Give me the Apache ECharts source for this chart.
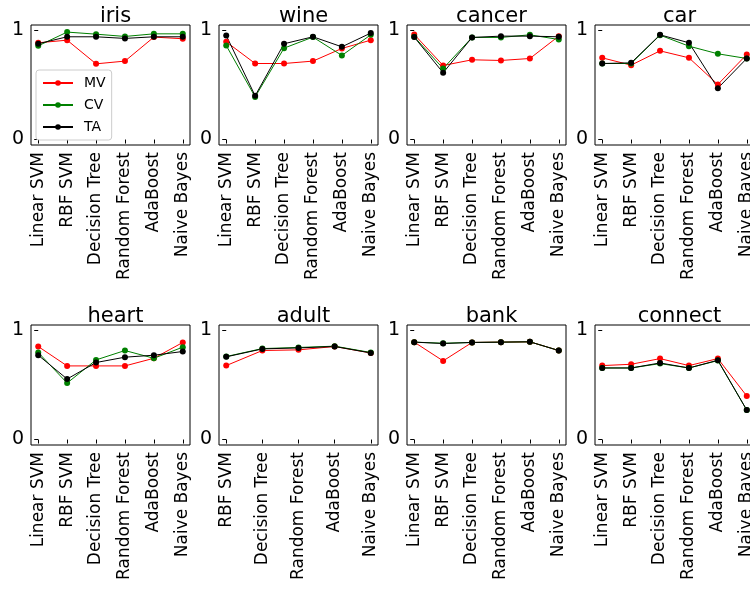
<!DOCTYPE html>
<html>
<head>
<meta charset="utf-8">
<script src="https://cdn.jsdelivr.net/npm/echarts@6/dist/echarts.min.js"></script>
<style>
  html, body { margin: 0; padding: 0; background: #fff; }
  #chart { width: 750px; height: 590px; }
</style>
</head>
<body>
<div id="chart"></div>
<script>
// classifiers on the x axis
const categories = ['Linear SVM', 'RBF SVM', 'Decision Tree', 'Random Forest', 'AdaBoost', 'Naive Bayes']
const adultCategories = ['RBF SVM', 'Decision Tree', 'Random Forest', 'AdaBoost', 'Naive Bayes']
const yTicks = [0, 1]

// accuracy per dataset (MV / CV / TA)
const iris = {
  MV: [0.887, 0.911, 0.694, 0.719, 0.939, 0.924],
  CV: [0.859, 0.985, 0.966, 0.945, 0.969, 0.969],
  TA: [0.878, 0.942, 0.942, 0.927, 0.942, 0.942]
}
const wine = {
  MV: [0.896, 0.697, 0.697, 0.719, 0.835, 0.911],
  CV: [0.862, 0.391, 0.838, 0.939, 0.771, 0.960],
  TA: [0.954, 0.401, 0.878, 0.942, 0.850, 0.976]
}
const cancer = {
  MV: [0.963, 0.679, 0.731, 0.725, 0.743, 0.948],
  CV: [0.942, 0.651, 0.936, 0.936, 0.960, 0.917],
  TA: [0.939, 0.612, 0.936, 0.948, 0.948, 0.942]
}
const car = {
  MV: [0.749, 0.682, 0.813, 0.749, 0.505, 0.780],
  CV: [0.697, 0.697, 0.957, 0.856, 0.786, 0.743],
  TA: [0.697, 0.703, 0.960, 0.887, 0.471, 0.743]
}
const heart = {
  MV: [0.853, 0.675, 0.675, 0.675, 0.745, 0.890],
  CV: [0.798, 0.518, 0.730, 0.816, 0.745, 0.847],
  TA: [0.773, 0.555, 0.706, 0.755, 0.773, 0.807]
}
const adult = {
  MV: [0.678, 0.816, 0.822, 0.853, 0.794],
  CV: [0.761, 0.834, 0.844, 0.856, 0.798],
  TA: [0.758, 0.831, 0.840, 0.853, 0.794]
}
const bank = {
  MV: [0.893, 0.721, 0.890, 0.893, 0.896, 0.816],
  CV: [0.893, 0.883, 0.890, 0.893, 0.896, 0.816],
  TA: [0.893, 0.880, 0.890, 0.893, 0.896, 0.816]
}
const connect = {
  MV: [0.678, 0.690, 0.742, 0.678, 0.742, 0.399],
  CV: [0.656, 0.656, 0.696, 0.656, 0.724, 0.270],
  TA: [0.656, 0.656, 0.702, 0.656, 0.727, 0.270]
}

const panels = [
  { title: 'iris', data: iris, cats: categories },
  { title: 'wine', data: wine, cats: categories },
  { title: 'cancer', data: cancer, cats: categories },
  { title: 'car', data: car, cats: categories },
  { title: 'heart', data: heart, cats: categories },
  { title: 'adult', data: adult, cats: adultCategories },
  { title: 'bank', data: bank, cats: categories },
  { title: 'connect', data: connect, cats: categories }
]

const FONT = 'DejaVu Sans'
const colors = { MV: '#ff0000', CV: '#008000', TA: '#000000' }
const lefts = [31, 219, 407, 595]
const tops = [25, 325]
const W = 159, H = 120

let grid = [], xAxis = [], yAxis = [], series = [], title = []

panels.forEach((p, i) => {
  const left = lefts[i % 4]
  const top = tops[Math.floor(i / 4)]
  const n = p.cats.length
  const idx = p.cats.map((c, k) => k)
  grid.push({
    left: left, top: top, width: W, height: H,
    outerBoundsMode: 'none', containLabel: false,
    show: true, borderColor: '#000', borderWidth: 1
  })
  title.push({
    text: p.title, left: left + W / 2, top: top - 24, textAlign: 'center',
    textStyle: { fontFamily: FONT, fontSize: 21, fontWeight: 'normal', color: '#000' }
  })
  xAxis.push({
    type: 'value', gridIndex: i, min: -0.05 * (n - 1), max: (n - 1) * 1.05,
    axisLine: { show: false },
    splitLine: { show: false },
    axisTick: { show: true, length: 4, customValues: idx, lineStyle: { color: '#000' } },
    axisLabel: {
      customValues: idx, rotate: 90, margin: 7, fontFamily: FONT, fontSize: 17, color: '#000',
      formatter: v => p.cats[Math.round(v)]
    }
  })
  yAxis.push({
    type: 'value', gridIndex: i, min: -0.05, max: 1.05,
    axisLine: { show: false },
    splitLine: { show: false },
    axisTick: { show: true, length: 4, customValues: yTicks, lineStyle: { color: '#000' } },
    axisLabel: { customValues: yTicks, margin: 7, fontFamily: FONT, fontSize: 19, color: '#000', formatter: v => String(v) }
  })
  ;['MV', 'CV', 'TA'].forEach(name => {
    series.push({
      name: name, type: 'line', xAxisIndex: i, yAxisIndex: i,
      data: p.data[name].map((v, k) => [k, v]),
      symbol: 'circle', symbolSize: 6,
      itemStyle: { color: colors[name] },
      lineStyle: { color: colors[name], width: 1 }
    })
  })
})

const chart = echarts.init(document.getElementById('chart'))
chart.setOption({
  animation: false,
  backgroundColor: '#fff',
  title: title,
  legend: {
    data: ['MV', 'CV', 'TA'],
    orient: 'vertical', left: 36, top: 70,
    itemWidth: 30, itemHeight: 7, itemGap: 8,
    padding: [6, 6, 6, 6],
    borderColor: '#cccccc', borderWidth: 1, borderRadius: 3,
    backgroundColor: 'rgba(255,255,255,0.8)',
    textStyle: { fontFamily: FONT, fontSize: 14, lineHeight: 14, color: '#000', padding: [0, 0, 0, 6] }
  },
  grid: grid,
  xAxis: xAxis,
  yAxis: yAxis,
  series: series
})
</script>
</body>
</html>
